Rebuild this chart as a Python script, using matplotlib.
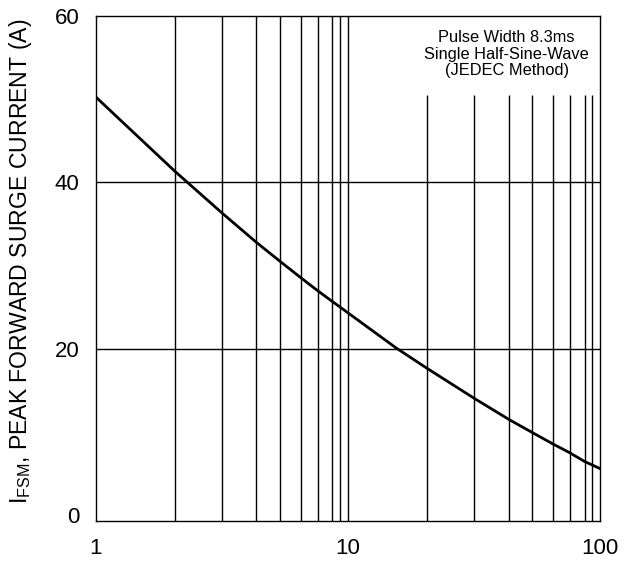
import matplotlib
matplotlib.use("Agg")
import matplotlib.pyplot as plt

# Data
pulses = [1.0, 2.07, 3.18, 4.34, 5.37, 6.51, 7.60, 8.71, 10.0, 15.5, 20.6,
          31.7, 43.4, 53.7, 65.1, 75.8, 86.9, 100.0]
current = [50.3, 41.3, 36.3, 32.8, 30.55, 28.55, 26.98, 25.66, 24.34, 20.13,
           17.66, 14.05, 11.53, 9.96, 8.56, 7.51, 6.45, 5.6]

# grid line multipliers as drawn in the original (per decade)
grid_mult = [2.06, 3.18, 4.34, 5.37, 6.51, 7.60, 8.69, 9.32]
decades = [1, 10]
x_ticks = [1, 10, 100]
x_ticklabels = ["1", "10", "100"]
y_ticks = [0, 20, 40, 60]
y_ticklabels = ["0", "20", "40", "60"]
note = "Pulse Width 8.3ms\nSingle Half-Sine-Wave\n(JEDEC Method)"
ylabel = r"I$_{\mathregular{FSM}}$, PEAK FORWARD SURGE CURRENT (A)"

plt.rcParams['font.family'] = ['Liberation Sans', 'DejaVu Sans']
plt.rcParams['mathtext.fontset'] = 'custom'
plt.rcParams['mathtext.rm'] = 'Liberation Sans'

fig = plt.figure(figsize=(6.23, 5.63), dpi=100)
ax = fig.add_axes([95.5/623, 1-521/563, (600-95.5)/623, (521-16)/563])
ax.set_xscale('log')
ax.set_xlim(1, 100)
ax.set_ylim(-0.7, 60)

# grid
for d in decades:
    for m in grid_mult:
        xv = d*m
        top = 60 if d == 1 else 50.5
        ax.vlines(xv, -0.7, top, colors='black', linewidth=1.0, zorder=1)
ax.vlines(10, -0.7, 60, colors='black', linewidth=1.0, zorder=1)
for yv in [20, 40]:
    ax.axhline(yv, color='black', linewidth=1.0, zorder=1)

ax.plot(pulses, current, color='black', linewidth=2.0, zorder=3)

ax.set_xticks(x_ticks)
ax.set_xticklabels(x_ticklabels)
ax.xaxis.set_minor_locator(matplotlib.ticker.NullLocator())
ax.set_yticks(y_ticks)
ax.set_yticklabels(y_ticklabels)
ax.tick_params(axis='both', length=0, labelsize=16)
ax.tick_params(axis='x', pad=12)
ax.tick_params(axis='y', pad=11.5)
for s in ax.spines.values():
    s.set_linewidth(1.0)
    s.set_color('black')

ax.text(506.7/623, 1-54/563, note, transform=fig.transFigure, ha='center',
        va='center', fontsize=11.8, linespacing=1.15)

fig.text(21/623, 1-261/563, ylabel, rotation=90, ha='center', va='center',
         fontsize=16.6)

fig.savefig("out.png", dpi=100)
